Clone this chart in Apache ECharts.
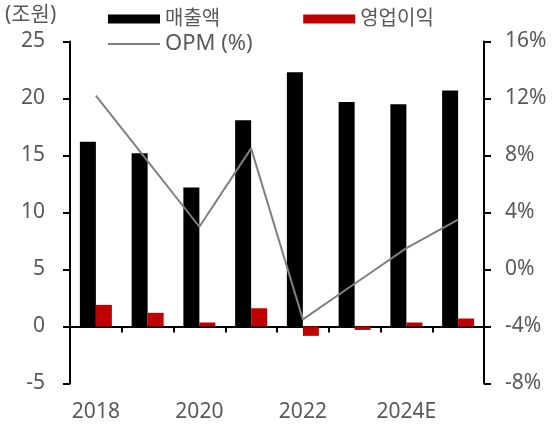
<!DOCTYPE html>
<html>
<head>
<meta charset="utf-8">
<script src="https://cdn.jsdelivr.net/npm/echarts@6/dist/echarts.min.js"></script>
<style>
  html, body { margin: 0; padding: 0; background: #fff; }
  #chart { width: 553px; height: 428px; }
</style>
</head>
<body>
<div id="chart"></div>
<script>
// Annual figures (조원) and operating margin (%)
const categories = ['2018', '2019', '2020', '2021', '2022', '2023', '2024E', '2025E'];
const revenue = [16.2, 15.2, 12.2, 18.1, 22.3, 19.7, 19.5, 20.7];
const operatingProfit = [1.9, 1.2, 0.35, 1.6, -0.82, -0.3, 0.35, 0.7];
const opm = [12.2, 7.6, 3.0, 8.5, -3.5, -1.0, 1.5, 3.5];

const leftTicks = { min: -5, max: 25, interval: 5 };
const rightTicks = { min: -8, max: 16, interval: 4 };

const FONT = '"Noto Sans", "Noto Sans CJK KR", sans-serif';
const TEXT = '#595959';

const chart = echarts.init(document.getElementById('chart'), null, { renderer: 'canvas' });

chart.setOption({
  animation: false,
  backgroundColor: '#ffffff',
  textStyle: { fontFamily: FONT },
  title: {
    text: '(조원)',
    left: 5, top: 5, padding: 0,
    textStyle: { fontFamily: FONT, fontSize: 21, fontWeight: 'normal', color: TEXT }
  },
  legend: [
    {
      data: ['매출액', '영업이익'],
      left: 108, top: 9, padding: 0,
      itemWidth: 52, itemHeight: 9, itemGap: 83,
      icon: 'rect',
      textStyle: { fontFamily: FONT, fontSize: 20, color: TEXT }
    },
    {
      data: [{ name: 'OPM (%)', icon: 'rect' }],
      left: 108, top: 33, padding: 0,
      itemWidth: 52, itemHeight: 2,
      textStyle: { fontFamily: FONT, fontSize: 22, color: TEXT }
    }
  ],
  grid: { left: 70, right: 69, top: 41.5, bottom: 44.5, containLabel: false },
  xAxis: [
    {
      type: 'category',
      data: categories,
      position: 'bottom',
      axisLine: { show: false, onZero: false },
      axisTick: { show: false },
      axisLabel: { interval: 1, margin: 18, fontFamily: FONT, fontSize: 21, color: TEXT }
    },
    {
      type: 'category',
      data: categories,
      position: 'bottom',
      axisLine: { show: true, onZero: true, onZeroAxisIndex: 0, lineStyle: { color: '#000', width: 2 } },
      axisTick: { show: true, inside: false, length: 6, interval: 0, lineStyle: { color: '#000', width: 2 } },
      axisLabel: { show: false }
    }
  ],
  yAxis: [
    {
      type: 'value',
      min: leftTicks.min, max: leftTicks.max, interval: leftTicks.interval,
      axisLine: { show: true, lineStyle: { color: '#000', width: 2 } },
      axisTick: { show: true, inside: false, length: 7, lineStyle: { color: '#000', width: 2 } },
      splitLine: { show: false },
      axisLabel: { margin: 25, fontFamily: FONT, fontSize: 21, color: TEXT, padding: [3, 0, 0, 0] }
    },
    {
      type: 'value',
      position: 'right',
      min: rightTicks.min, max: rightTicks.max, interval: rightTicks.interval,
      axisLine: { show: true, lineStyle: { color: '#000', width: 2 } },
      axisTick: { show: true, inside: false, length: 7, lineStyle: { color: '#000', width: 2 } },
      splitLine: { show: false },
      axisLabel: { margin: 21, fontFamily: FONT, fontSize: 21, color: TEXT, formatter: '{value}%', padding: [3, 0, 0, 0] }
    }
  ],
  series: [
    {
      name: '매출액', type: 'bar',
      xAxisIndex: 0, yAxisIndex: 0,
      data: revenue,
      barWidth: 16, barGap: '0%',
      itemStyle: { color: '#000000' }
    },
    {
      name: '영업이익', type: 'bar',
      xAxisIndex: 0, yAxisIndex: 0,
      data: operatingProfit,
      barWidth: 16, barGap: '0%',
      itemStyle: { color: '#c00000' }
    },
    {
      name: 'OPM (%)', type: 'line',
      xAxisIndex: 0, yAxisIndex: 1,
      data: opm,
      symbol: 'none',
      z: 5,
      lineStyle: { color: '#808080', width: 2 },
      itemStyle: { color: '#808080' }
    }
  ]
});
</script>
</body>
</html>
